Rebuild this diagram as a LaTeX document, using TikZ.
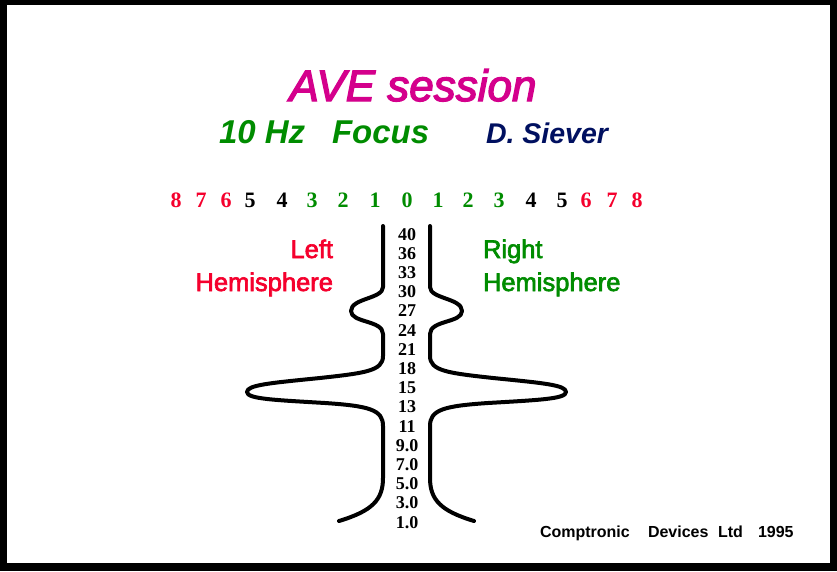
\documentclass[tikz,border=0pt]{standalone}
\usepackage{fontspec}
\setmainfont{Liberation Sans}
\newfontfamily\tms{Liberation Serif}
\newfontfamily\heavyit{Liberation Sans Italic}[FakeBold=3]
\newfontfamily\heavy{Liberation Sans}[FakeBold=2.5]
\definecolor{avemag}{RGB}{212,0,140}
\definecolor{avegreen}{RGB}{0,140,0}
\definecolor{avered}{RGB}{245,0,45}
\definecolor{avenavy}{RGB}{0,16,96}
\tikzset{
  txt/.style={inner sep=0pt, outer sep=0pt, anchor=base},
  num/.style={txt, font=\tms\bfseries\fontsize{22}{22}\selectfont},
  freq/.style={txt, font=\tms\bfseries\fontsize{18}{18}\selectfont},
  hemi/.style={txt, font=\heavy\fontsize{25.5}{25.5}\selectfont},
  outline/.style={line width=4pt, line cap=round, line join=round}
}
\begin{document}
\begin{tikzpicture}[x=1pt,y=-1pt]
\fill[black] (0,0) rectangle (837,571);
\fill[white] (7,5) rectangle (830,563);
\useasboundingbox (0,0) rectangle (837,571);
% title
\node[txt, text=avemag, font=\heavyit\fontsize{44}{44}\selectfont] (title) at (413,101) {AVE session};
\node[txt, anchor=base west, text=avegreen, font=\bfseries\itshape\fontsize{33}{33}\selectfont] (hz) at (219,143) {10 Hz};
\node[txt, anchor=base west, text=avegreen, font=\bfseries\itshape\fontsize{33}{33}\selectfont] (focus) at (332,143) {Focus};
\node[txt, anchor=base west, text=avenavy, font=\bfseries\itshape\fontsize{28.5}{28.5}\selectfont] (siever) at (486,143) {D. Siever};
% hemisphere numbers
\foreach \x/\t/\c [count=\i] in {176/8/avered,201/7/avered,226/6/avered,250/5/black,282/4/black,312/3/avegreen,343/2/avegreen,375/1/avegreen,407/0/avegreen,438/1/avegreen,468/2/avegreen,499/3/avegreen,531/4/black,562/5/black,586/6/avered,612/7/avered,637/8/avered}
  \node[num, text=\c] (n\i) at (\x,207) {\t};
% frequencies
\foreach \t [count=\i from 0] in {40,36,33,30,27,24,21,18,15,13,11,9.0,7.0,5.0,3.0,1.0}
  \node[freq] (f\i) at (407,240+19.2*\i) {\t};
% hemisphere labels
\node[hemi, anchor=base east, text=avered] (left) at (333,258) {Left};
\node[hemi, anchor=base east, text=avered] (lefthemi) at (333,291) {Hemisphere};
\node[hemi, anchor=base west, text=avegreen] (right) at (483,258) {Right};
\node[hemi, anchor=base west, text=avegreen] (righthemi) at (483,291) {Hemisphere};
% outline
\begin{scope}
\draw[outline] (383,226) -- (383,287)
  .. controls (383,299) and (351,298) .. (351,311)
  .. controls (351,323) and (383,320) .. (383,334)
  -- (383,356)
  .. controls (383,371) and (365,373) .. (320,378)
  .. controls (270,383) and (247,385) .. (247,392)
  .. controls (247,399) and (275,400) .. (325,403)
  .. controls (370,406) and (383,410) .. (383,426)
  -- (383,478)
  .. controls (383,500) and (372,511) .. (339,521);
\end{scope}
\begin{scope}[xshift=813pt, xscale=-1]
\draw[outline] (383,226) -- (383,287)
  .. controls (383,299) and (351,298) .. (351,311)
  .. controls (351,323) and (383,320) .. (383,334)
  -- (383,356)
  .. controls (383,371) and (365,373) .. (320,378)
  .. controls (270,383) and (247,385) .. (247,392)
  .. controls (247,399) and (275,400) .. (325,403)
  .. controls (370,406) and (383,410) .. (383,426)
  -- (383,478)
  .. controls (383,500) and (372,511) .. (339,521);
\end{scope}
% credit
\begin{scope}[every node/.style={txt, anchor=base west, font=\bfseries\fontsize{16}{16}\selectfont}]
\node (c1) at (540,537) {Comptronic};
\node (c2) at (648,537) {Devices};
\node (c3) at (718,537) {Ltd};
\node (c4) at (758,537) {1995};
\end{scope}
\end{tikzpicture}
\end{document}
